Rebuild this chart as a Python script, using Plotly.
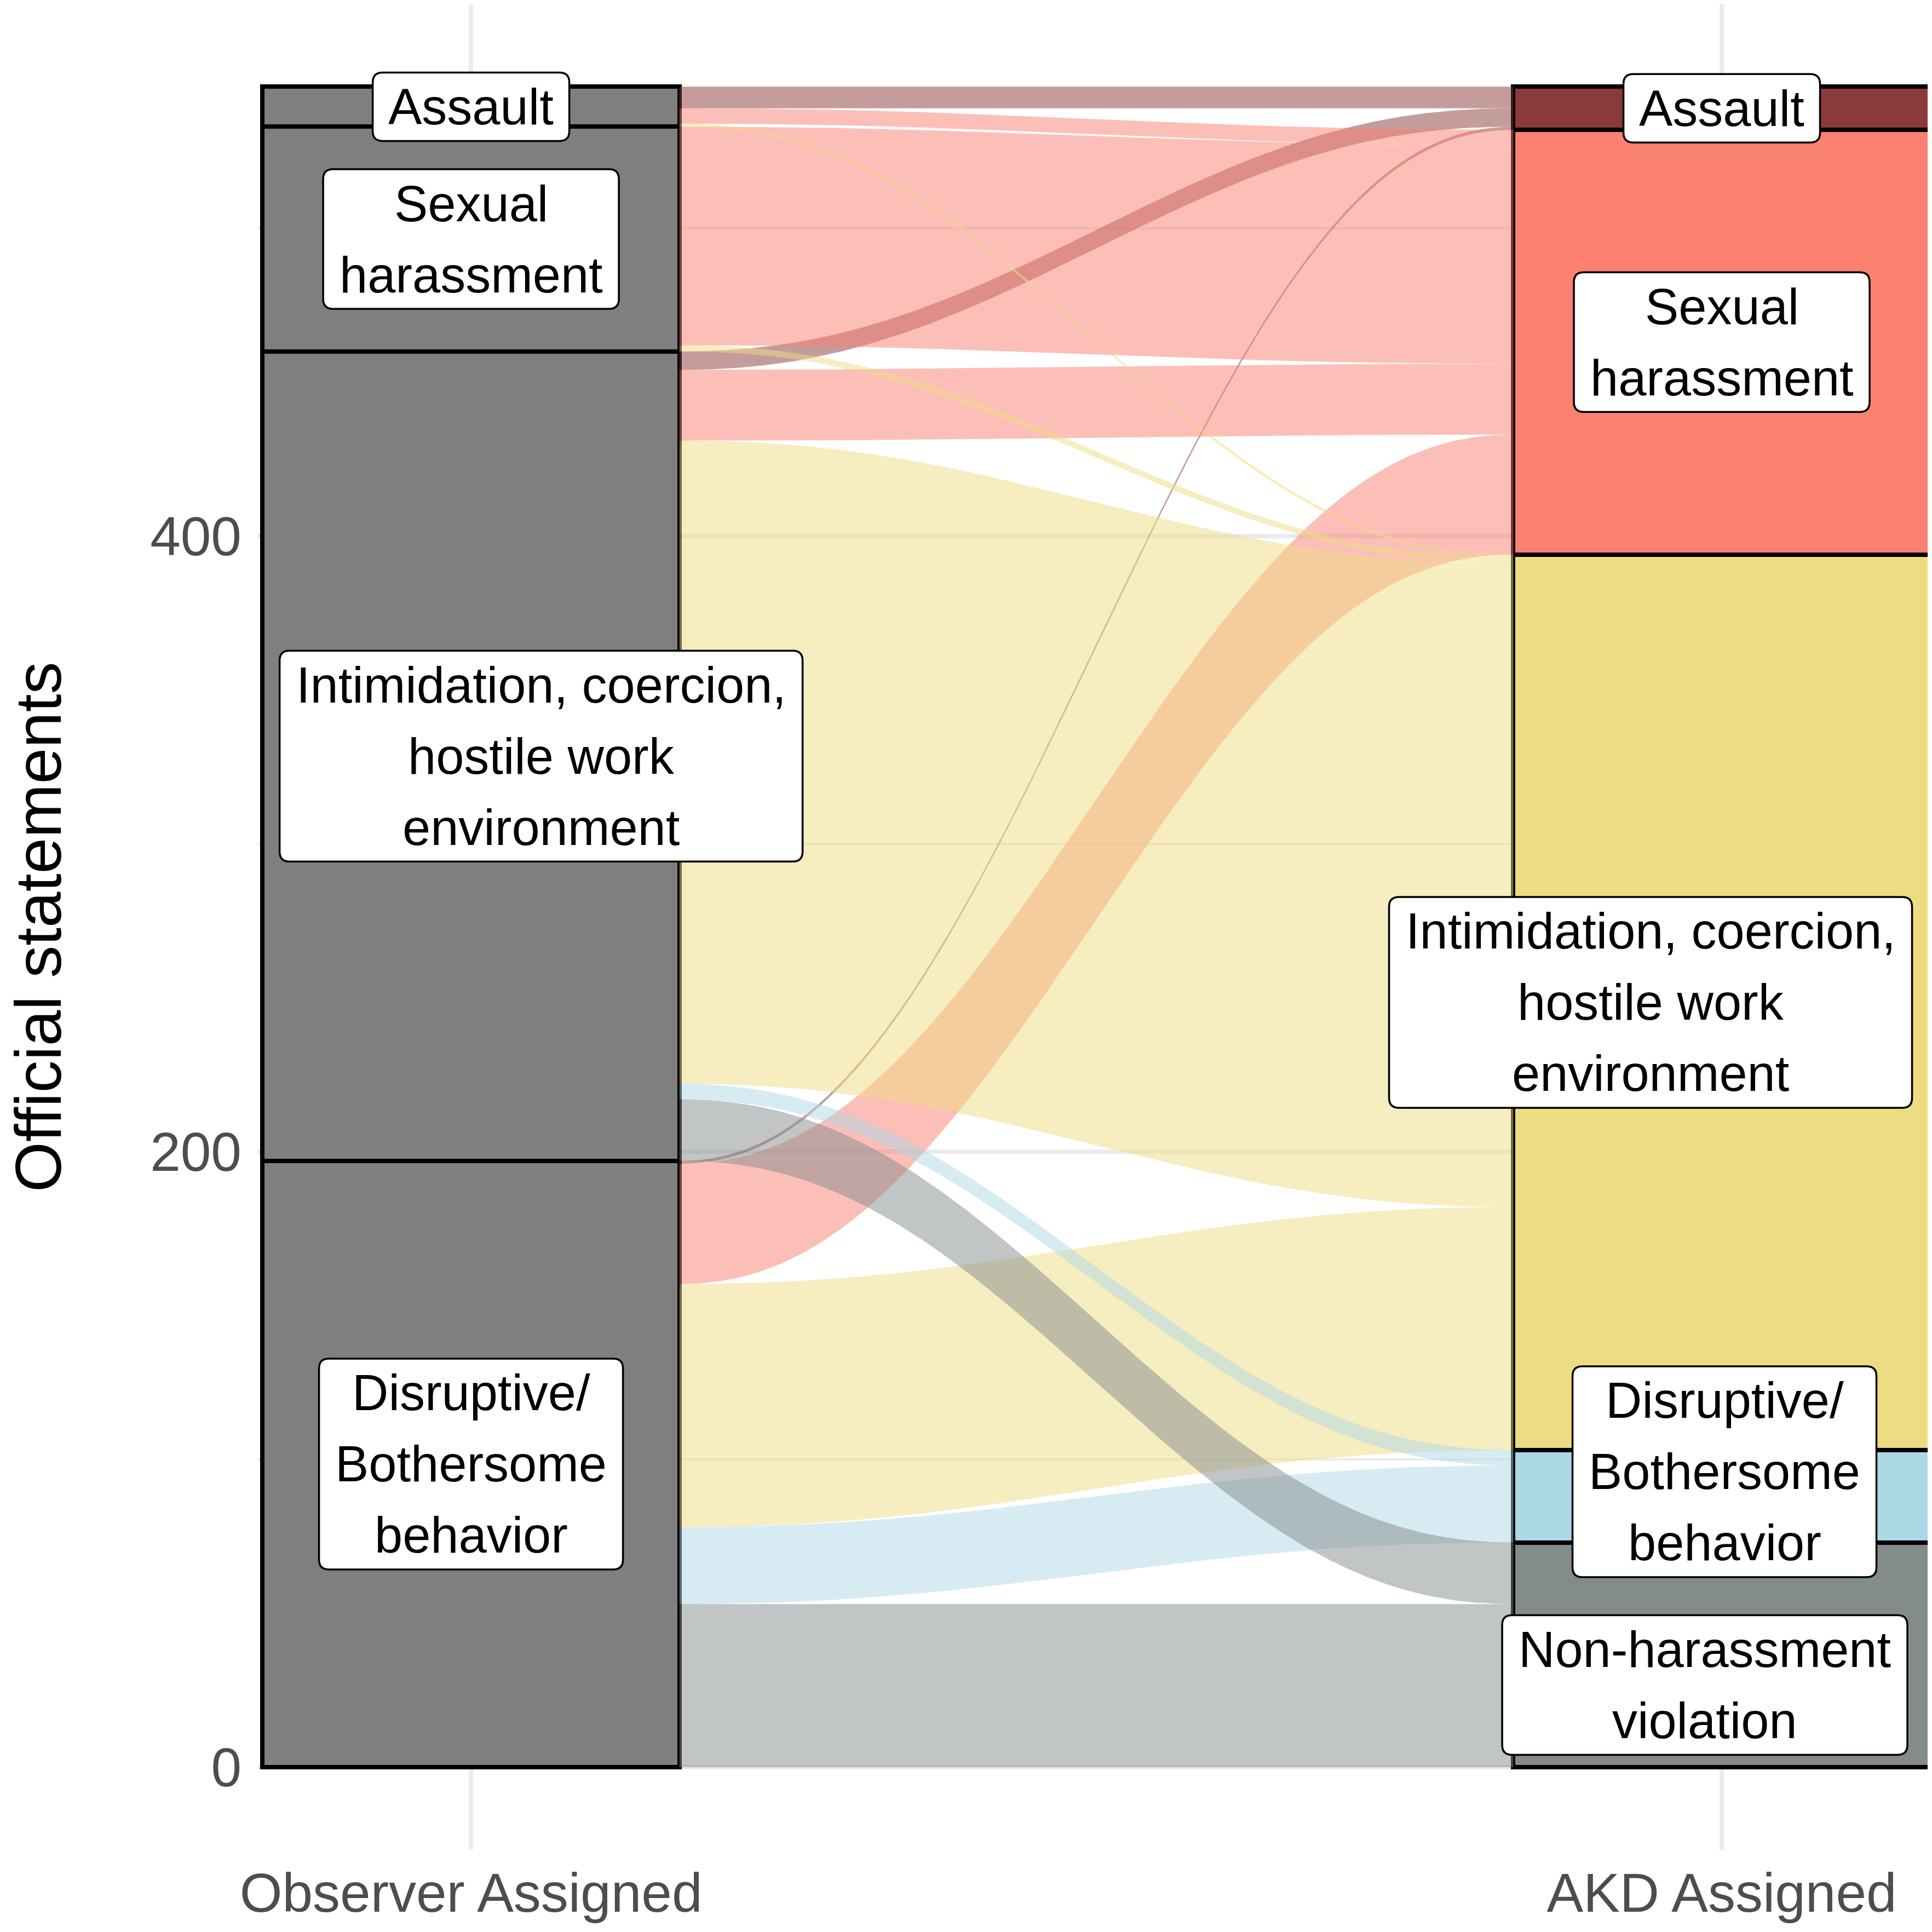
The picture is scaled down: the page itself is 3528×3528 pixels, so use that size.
import numpy as np
import plotly.graph_objects as go

# ---------------- data ----------------
categories = ["Non-harassment violation", "Disruptive/Bothersome behavior",
              "Intimidation, coercion, hostile work environment",
              "Sexual harassment", "Assault"]
label_lines = [["Non-harassment", "violation"],
               ["Disruptive/", "Bothersome", "behavior"],
               ["Intimidation, coercion,", "hostile work", "environment"],
               ["Sexual", "harassment"],
               ["Assault"]]
axis_labels = ["Observer Assigned", "AKD Assigned"]
y_title = "Official statements"
y_ticks = [0, 200, 400]
y_minor_ticks = [100, 300, 500]

# flows: observer-assigned category (row) -> AKD-assigned counts, in `categories` order
from_non_harassment = [0, 0, 0, 0, 0]
from_disruptive = [53, 25, 79, 39, 1]
from_intimidation = [20, 5, 209, 23, 6]
from_sexual_harassment = [0, 0, 2, 71, 0]
from_assault = [0, 0, 1, 5, 7]

# ---------------- style ----------------
akd_colors = ["#838B8B", "#ADD8E6", "#EEDC82", "#FA8072", "#8B3A3A"]
observer_color = "#7F7F7F"
flow_alpha = 0.5
FONT = "Liberation Sans, Arial, Helvetica, sans-serif"
label_font = 92
line_step = 130
box_width = [740, 555, 955, 540, 359]
# label nudges in pixels (dx right, dy up) per (side, category)
label_nudge = {(0, 2): (128, 0), (1, 2): (-130, 0), (1, 1): (5, 45), (1, 0): (-31, -55)}
stratum_w = 1 / 3
PAGE_OFFSET = 8  # default body margin of the html page


def hex_rgba(h, a):
    h = h.lstrip("#")
    return "rgba(%d,%d,%d,%.3f)" % (int(h[0:2], 16), int(h[2:4], 16), int(h[4:6], 16), a)


M = np.array([from_non_harassment, from_disruptive, from_intimidation,
              from_sexual_harassment, from_assault], dtype=float)
n = len(categories)
left_tot = M.sum(axis=1)
right_tot = M.sum(axis=0)
left_base = np.concatenate([[0], np.cumsum(left_tot)[:-1]])
right_base = np.concatenate([[0], np.cumsum(right_tot)[:-1]])
total = left_tot.sum()

fig = go.Figure()

# ---------------- flows ----------------
xa, xb = 1 + stratum_w / 2, 2 - stratum_w / 2
t = np.linspace(0, 1, 160)
f = 0.5 * (3 * t ** 2 - 2 * t ** 3) + 0.5 * (6 * t ** 5 - 15 * t ** 4 + 10 * t ** 3)
xs = xa + (xb - xa) * t
for i in range(n):
    for j in range(n):
        v = M[i, j]
        if v <= 0:
            continue
        yl0 = left_base[i] + M[i, :j].sum()
        yr0 = right_base[j] + M[:i, j].sum()
        yl1, yr1 = yl0 + v, yr0 + v
        bot = yl0 + (yr0 - yl0) * f
        top = yl1 + (yr1 - yl1) * f
        fig.add_trace(go.Scatter(
            x=np.concatenate([xs, xs[::-1]]), y=np.concatenate([bot, top[::-1]]),
            mode="lines", fill="toself", line=dict(width=0),
            fillcolor=hex_rgba(akd_colors[j], flow_alpha),
            hoverinfo="skip", showlegend=False))

# ---------------- strata ----------------
for j in range(n):
    fig.add_trace(go.Bar(
        x=[1, 2], y=[left_tot[j], right_tot[j]], width=stratum_w,
        marker=dict(color=[observer_color, akd_colors[j]], line=dict(color="black", width=8.5)),
        hoverinfo="skip", showlegend=False))


# ---------------- labels ----------------
def rounded_path(w, h, dx, dy, r=18):
    x0, x1 = dx - w / 2, dx + w / 2
    y0, y1 = dy - h / 2, dy + h / 2
    return (f"M {x0 + r},{y0} L {x1 - r},{y0} Q {x1},{y0} {x1},{y0 + r} "
            f"L {x1},{y1 - r} Q {x1},{y1} {x1 - r},{y1} L {x0 + r},{y1} "
            f"Q {x0},{y1} {x0},{y1 - r} L {x0},{y0 + r} Q {x0},{y0} {x0 + r},{y0} Z")


for side, (tots, bases) in enumerate([(left_tot, left_base), (right_tot, right_base)]):
    for j in range(n):
        if tots[j] <= 0:
            continue
        xc = side + 1
        yc = bases[j] + tots[j] / 2
        dx, dy = label_nudge.get((side, j), (0, 0))
        lines = label_lines[j]
        nl = len(lines)
        h = line_step * nl - 5
        fig.add_shape(type="path", xref="x", yref="y", xsizemode="pixel", ysizemode="pixel",
                      xanchor=xc, yanchor=yc, path=rounded_path(box_width[j], h, dx, dy),
                      fillcolor="white", line=dict(color="black", width=3.5), layer="above")
        for k, txt in enumerate(lines):
            fig.add_annotation(x=xc, y=yc, xref="x", yref="y", text=txt, showarrow=False,
                               xanchor="center", yanchor="middle",
                               xshift=dx, yshift=dy + ((nl - 1) / 2 - k) * line_step,
                               font=dict(family=FONT, size=label_font, color="black"))

# y axis title
fig.add_annotation(x=0, y=0.5, xref="paper", yref="paper", text=y_title, showarrow=False,
                   textangle=-90, xanchor="center", yanchor="middle", xshift=-400,
                   font=dict(family=FONT, size=118, color="black"))

size = 3528 - PAGE_OFFSET
fig.update_layout(
    width=size, height=size, barmode="stack", bargap=0,
    margin=dict(l=470 - PAGE_OFFSET, r=0, t=0, b=150, autoexpand=False),
    paper_bgcolor="white", plot_bgcolor="white",
    font=dict(family=FONT),
    xaxis=dict(range=[0.8292, 2.1681], tickvals=[1, 2], ticktext=axis_labels,
               showgrid=True, gridcolor="#EBEBEB", gridwidth=8, zeroline=False,
               ticks="", showline=False, ticklabelstandoff=12, automargin=False,
               tickfont=dict(family=FONT, size=100, color="#4D4D4D")),
    yaxis=dict(range=[-0.0492 * total, 1.049 * total], tickvals=y_ticks,
               showgrid=True, gridcolor="#EBEBEB", gridwidth=8, zeroline=False,
               ticks="", showline=False, ticklabelstandoff=28, automargin=False,
               tickfont=dict(family=FONT, size=100, color="#4D4D4D"),
               minor=dict(tickvals=y_minor_ticks, showgrid=True, gridcolor="#EBEBEB", gridwidth=4)),
)

fig.write_html("out.html")
